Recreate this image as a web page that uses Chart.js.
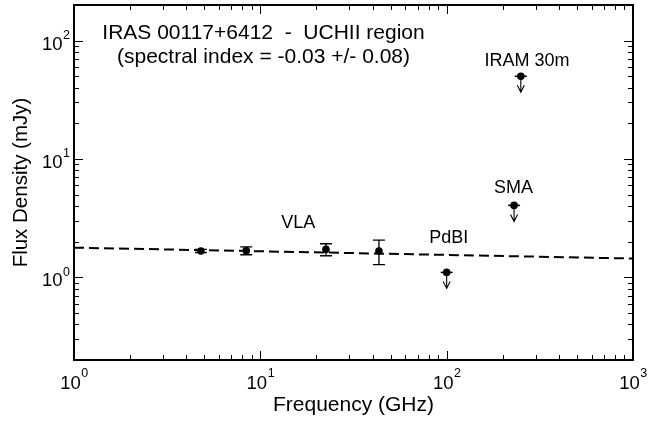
<!DOCTYPE html>
<html><head><meta charset="utf-8">
<script src="https://cdn.jsdelivr.net/npm/chart.js@4/dist/chart.umd.min.js"></script>
<style>html,body{margin:0;padding:0;background:#fff;}#wrap{width:670px;height:423px;}</style>
</head><body><div id="wrap"><canvas id="c" width="670" height="423"></canvas></div>
<script>
// ---- data ----
const vlaFreq = [4.8, 8.4, 22.5, 43.3];      // GHz
const vlaFlux = [1.67, 1.68, 1.72, 1.67];    // mJy
const vlaErr  = [0.05, 0.13, 0.20, 0.39];    // mJy
const limitFreq = [100, 230, 250];           // PdBI, SMA, IRAM 30m (upper limits)
const limitFlux = [1.1, 4.05, 50];
const fitFreq = [1, 1000];                   // dashed power-law fit end points
const fitFlux = [1.78, 1.44];
const xMajorTicks = [1, 10, 100, 1000];
const xTickExponents = ['0', '1', '2', '3'];
const yMajorTicks = [1, 10, 100];
const yTickExponents = ['0', '1', '2'];
const labelTexts = ['VLA', 'PdBI', 'SMA', 'IRAM 30m'];
const labelFreq  = [16.0, 102.6, 228.6, 270];
const labelFlux  = [2.89, 2.15, 5.70, 67.3];
const titleLines = ['IRAS 00117+6412  -  UCHII region', '(spectral index = -0.03 +/- 0.08)'];
const titleFreq = 10.4;
const titleFlux = [114.6, 72.3];
const xTitle = 'Frequency (GHz)';
const yTitle = 'Flux Density (mJy)';

const FONT = '"Liberation Sans", Arial, Helvetica, sans-serif';

const decorPlugin = {
  id: 'decor',
  afterDatasetsDraw(chart) {
    const ctx = chart.ctx, xs = chart.scales.x, ys = chart.scales.y, a = chart.chartArea;
    ctx.save();
    ctx.strokeStyle = '#000'; ctx.fillStyle = '#000';
    // error bars on VLA detections
    ctx.lineWidth = 1.3;
    vlaFreq.forEach((f, i) => {
      const x = xs.getPixelForValue(f);
      const y1 = ys.getPixelForValue(vlaFlux[i] + vlaErr[i]);
      const y2 = ys.getPixelForValue(vlaFlux[i] - vlaErr[i]);
      ctx.beginPath();
      ctx.moveTo(x, y1); ctx.lineTo(x, y2);
      ctx.moveTo(x - 6, y1); ctx.lineTo(x + 6, y1);
      ctx.moveTo(x - 6, y2); ctx.lineTo(x + 6, y2);
      ctx.stroke();
    });
    // upper limit arrows
    limitFreq.forEach((f, i) => {
      const x = xs.getPixelForValue(f);
      const y = ys.getPixelForValue(limitFlux[i]);
      ctx.lineWidth = 1.5;
      ctx.beginPath();
      ctx.moveTo(x - 6, y); ctx.lineTo(x + 6, y);
      ctx.stroke();
      ctx.lineWidth = 1.1;
      ctx.beginPath();
      ctx.moveTo(x, y); ctx.lineTo(x, y + 16);
      ctx.moveTo(x - 3.5, y + 9); ctx.lineTo(x, y + 16); ctx.lineTo(x + 3.5, y + 9);
      ctx.stroke();
    });
    // frame
    ctx.lineWidth = 2;
    ctx.strokeRect(a.left, a.top, a.right - a.left, a.bottom - a.top);
    // ticks (inside)
    ctx.lineWidth = 1;
    const major = 9, minor = 5;
    const xMin = xs.min, xMax = xs.max, yMin = ys.min, yMax = ys.max;
    for (let d = 1; d <= 1000; d *= 10) {
      for (let m = 1; m <= 9; m++) {
        const v = d * m;
        if (v < xMin - 1e-9 || v > xMax + 1e-9) continue;
        const len = m === 1 ? major : minor;
        const x = Math.round(xs.getPixelForValue(v)) + 0.5;
        ctx.beginPath();
        ctx.moveTo(x, a.bottom); ctx.lineTo(x, a.bottom - len);
        ctx.moveTo(x, a.top); ctx.lineTo(x, a.top + len);
        ctx.stroke();
      }
    }
    for (let d = 0.1; d <= 100; d *= 10) {
      for (let m = 1; m <= 9; m++) {
        const v = d * m;
        if (v < yMin * 0.999 || v > yMax * 0.999) continue;
        const len = m === 1 ? major : minor;
        const y = Math.round(ys.getPixelForValue(v)) + 0.5;
        ctx.beginPath();
        ctx.moveTo(a.left, y); ctx.lineTo(a.left + len, y);
        ctx.moveTo(a.right, y); ctx.lineTo(a.right - len, y);
        ctx.stroke();
      }
    }
    // tick labels
    const big = '18.5px ' + FONT, small = '12.5px ' + FONT;
    ctx.textBaseline = 'alphabetic';
    ctx.textAlign = 'left';
    xMajorTicks.forEach((v, i) => {
      const x = xs.getPixelForValue(v);
      ctx.font = big; const w1 = ctx.measureText('10').width;
      ctx.font = small; const w2 = ctx.measureText(xTickExponents[i]).width;
      const x0 = x - (w1 + w2) / 2;
      ctx.font = big; ctx.fillText('10', x0, a.bottom + 29);
      ctx.font = small; ctx.fillText(xTickExponents[i], x0 + w1 + 0.5, a.bottom + 17);
    });
    yMajorTicks.forEach((v, i) => {
      const y = ys.getPixelForValue(v);
      ctx.font = small; const w2 = ctx.measureText(yTickExponents[i]).width;
      ctx.font = big; const w1 = ctx.measureText('10').width;
      const xr = a.left - 4;
      ctx.fillText('10', xr - w2 - 0.5 - w1, y + 9);
      ctx.font = small; ctx.fillText(yTickExponents[i], xr - w2, y - 1.5);
    });
    // axis titles
    ctx.font = '21px ' + FONT;
    ctx.textAlign = 'center'; ctx.textBaseline = 'middle';
    ctx.fillText(xTitle, (a.left + a.right) / 2, 405);
    ctx.save();
    ctx.font = '20.5px ' + FONT;
    ctx.translate(21, (a.top + a.bottom) / 2);
    ctx.rotate(-Math.PI / 2);
    ctx.fillText(yTitle, 0, 0);
    ctx.restore();
    // title annotation
    titleLines.forEach((t, i) => {
      ctx.fillText(t, xs.getPixelForValue(titleFreq), ys.getPixelForValue(titleFlux[i]));
    });
    // instrument labels
    ctx.font = '18px ' + FONT;
    labelTexts.forEach((t, i) => {
      ctx.fillText(t, xs.getPixelForValue(labelFreq[i]), ys.getPixelForValue(labelFlux[i]));
    });
    ctx.restore();
  }
};

new Chart(document.getElementById('c'), {
  data: {
    datasets: [
      {
        type: 'line', label: 'fit',
        data: fitFreq.map((f, i) => ({x: f, y: fitFlux[i]})),
        borderColor: '#000', borderWidth: 2, borderDash: [10, 5],
        pointRadius: 0, fill: false, tension: 0
      },
      {
        type: 'scatter', label: 'VLA',
        data: vlaFreq.map((f, i) => ({x: f, y: vlaFlux[i]})),
        backgroundColor: '#000', borderColor: '#000', pointRadius: 3.8, pointBorderWidth: 0
      },
      {
        type: 'scatter', label: 'limits',
        data: limitFreq.map((f, i) => ({x: f, y: limitFlux[i]})),
        backgroundColor: '#000', borderColor: '#000', pointRadius: 3.8, pointBorderWidth: 0
      }
    ]
  },
  options: {
    responsive: false, animation: false, devicePixelRatio: 1,
    layout: {padding: {left: 74, right: 37, top: 5, bottom: 63}},
    plugins: {legend: {display: false}, tooltip: {enabled: false}},
    scales: {
      x: {type: 'logarithmic', min: 1, max: 1000, display: false},
      y: {type: 'logarithmic', min: 0.2, max: 200, display: false}
    }
  },
  plugins: [decorPlugin]
});
</script></body></html>
